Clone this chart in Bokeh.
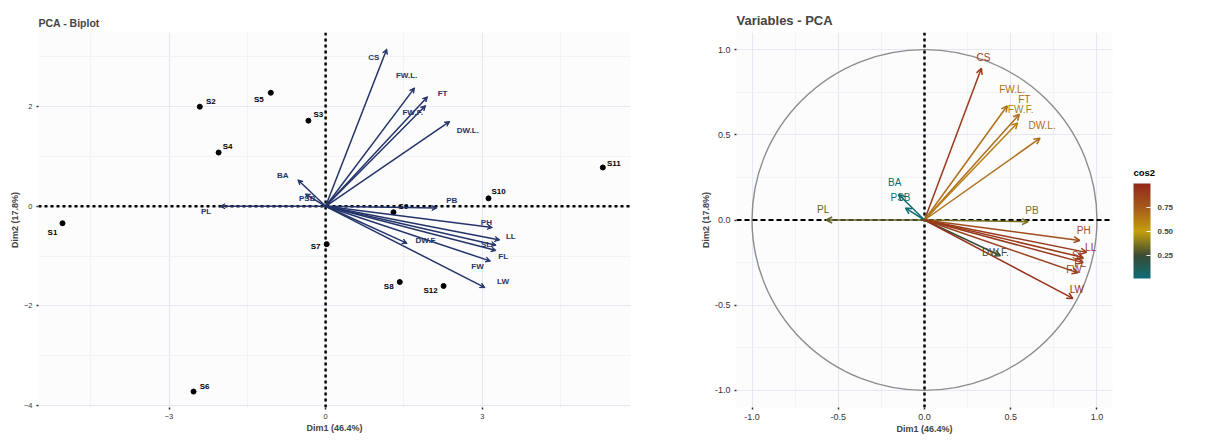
import numpy as np
from bokeh.plotting import figure
from bokeh.models import (ColumnDataSource, Span, Arrow, VeeHead, OpenHead, FixedTicker,
                          LinearColorMapper, ColorBar, PrintfTickFormatter, Range1d)
from bokeh.layouts import row
from bokeh.embed import file_html
from bokeh.resources import INLINE
from bokeh.core.properties import value

# ---------------- data ----------------
individuals = ["S1", "S2", "S3", "S4", "S5", "S6", "S7", "S8", "S9", "S10", "S11", "S12"]
ind_dim1 = [-5.04, -2.41, -0.33, -2.05, -1.05, -2.53, 0.02, 1.42, 1.30, 3.12, 5.31, 2.26]
ind_dim2 = [-0.34, 2.00, 1.72, 1.08, 2.28, -3.72, -0.76, -1.52, -0.12, 0.16, 0.78, -1.60]

variables = ["CS", "FW.L.", "FT", "FW.F.", "DW.L.", "PB", "BA", "PSB", "PL", "DW.F.",
             "PH", "LL", "SL", "FL", "FW", "LW"]
var_dim1 = [0.33, 0.48, 0.55, 0.54, 0.67, 0.60, -0.15, -0.11, -0.57, 0.44,
            0.90, 0.94, 0.92, 0.92, 0.89, 0.86]
var_dim2 = [0.89, 0.67, 0.62, 0.57, 0.48, -0.01, 0.15, 0.07, 0.00, -0.21,
            -0.12, -0.19, -0.22, -0.25, -0.31, -0.46]
biplot_scale = 3.55

dim1_label = "Dim1 (46.4%)"
dim2_label = "Dim2 (17.8%)"
cos2_title = "cos2"
cos2_ticks = [0.25, 0.50, 0.75]

# ---------------- styles (label placement in screen px) ----------------
ind_dx = [-10, 11, 10, 9, -12, 11, -11, -11, 10, 10, 11, -13]
ind_dy = [9, -5, -6, -6, 7, -5, 2, 4, -6, -7, -4, 5]
lv_dx = [-13, -8, 15, -13, 18, 15, -15, 2, -14, 19, -6, 11, -10, 7, -13, 18]
lv_dy = [9, -12, -3, 7, 9, -8, -4, 5, 5, -3, -5, -3, -1, 6, 5, -6]
rv_dx = [2, 5, 5, 3, 2, 4, -4, -5, -3, -5, 4, 4, -5, -3, -4, 4]
rv_dy = [-11, -16, -15, -13, -13, -11, -12, -11, -11, -3, -10, -5, -2, 1, -3, -9]

FONT = "Liberation Sans"
NAVY = "#24346A"
GRID = "#E2E9F0"
MINOR = "#EDF1F5"

stops = [(0.0, "#0A6F78"), (0.25, "#3A4A34"), (0.5, "#C4A00C"), (0.75, "#A65A1C"), (1.0, "#92281A")]


def hex2rgb(h):
    return np.array([int(h[i:i + 2], 16) for i in (1, 3, 5)], dtype=float)


def grad(t):
    t = min(max(t, 0.0), 1.0)
    for (a, ca), (b, cb) in zip(stops[:-1], stops[1:]):
        if t <= b:
            f = (t - a) / (b - a)
            c = hex2rgb(ca) * (1 - f) + hex2rgb(cb) * f
            return "#%02x%02x%02x" % tuple(int(round(v)) for v in c)
    return stops[-1][1]


cos2 = [x * x + y * y for x, y in zip(var_dim1, var_dim2)]
var_colors = [grad(c) for c in cos2]
c_low, c_high = 0.01, 1.0
palette = [grad(c_low + (c_high - c_low) * i / 255) for i in range(256)]


def style(p, title, tsize, tstandoff, tick_font):
    p.title.text = title
    p.title.text_font = FONT
    p.title.text_font_size = tsize
    p.title.text_font_style = "bold"
    p.title.standoff = tstandoff
    p.outline_line_color = None
    p.background_fill_color = "#FCFCFC"
    p.border_fill_color = "white"
    p.axis.axis_line_color = None
    p.axis.major_tick_line_color = "#333333"
    p.axis.major_tick_line_width = 1.5
    p.axis.major_tick_out = 2
    p.axis.major_tick_in = 0
    p.axis.minor_tick_line_color = None
    p.axis.major_label_text_font = FONT
    p.axis.major_label_text_font_size = tick_font
    p.axis.major_label_text_color = "#333333"
    p.axis.major_label_standoff = 2
    p.axis.axis_label_text_font = FONT
    p.axis.axis_label_text_font_style = "bold"
    p.axis.axis_label_text_font_size = "9px"
    p.axis.axis_label_standoff = 1
    p.xaxis.axis_label = dim1_label
    p.yaxis.axis_label = dim2_label
    p.grid.grid_line_color = GRID
    p.grid.grid_line_width = 1.1
    p.grid.minor_grid_line_color = MINOR
    p.grid.minor_grid_line_width = 0.9


# ---------------- left: biplot ----------------
left = figure(x_range=(-5.5, 5.84), y_range=(-4.04, 3.49), frame_width=592, frame_height=375,
              min_border_left=38, min_border_right=18, min_border_top=32, min_border_bottom=26,
              output_backend="svg", toolbar_location=None)
style(left, "PCA - Biplot", "10.5px", 8, "7.5px")
left.xaxis.ticker = FixedTicker(ticks=[-3, 0, 3], minor_ticks=[-4.5, -1.5, 1.5, 4.5])
left.yaxis.ticker = FixedTicker(ticks=[-4, -2, 0, 2], minor_ticks=[-3, -1, 1, 3])

left.add_layout(Span(location=0, dimension="width", line_color="black", line_width=2.5, line_dash="3 3"))
left.add_layout(Span(location=0, dimension="height", line_color="black", line_width=2.5, line_dash="3 3"))

lx = [v * biplot_scale for v in var_dim1]
ly = [v * biplot_scale for v in var_dim2]
lsrc = ColumnDataSource(dict(x0=[0.0] * len(variables), y0=[0.0] * len(variables), x1=lx, y1=ly))
left.add_layout(Arrow(x_start="x0", y_start="y0", x_end="x1", y_end="y1", source=lsrc,
                      line_color=NAVY, line_width=1.5,
                      end=VeeHead(size=5, fill_color=NAVY, line_color=NAVY, line_width=1)))

isrc = ColumnDataSource(dict(x=ind_dim1, y=ind_dim2, label=individuals, dx=ind_dx, dy=ind_dy))
left.scatter("x", "y", source=isrc, size=5, color="black")
left.text("x", "y", text="label", source=isrc, x_offset="dx", y_offset="dy",
          text_align="center", text_baseline="middle", text_font=value(FONT),
          text_font_size="8px", text_font_style="bold", text_color="black")
for i, name in enumerate(variables):
    left.text(x=[lx[i]], y=[ly[i]], text=[name], x_offset=lv_dx[i], y_offset=lv_dy[i],
              text_align="center", text_baseline="middle", text_font=value(FONT),
              text_font_size="8px", text_font_style="bold", text_color=NAVY)

# ---------------- right: variables ----------------
right = figure(x_range=(-1.09, 1.09), y_range=(-1.1, 1.1), frame_width=376, frame_height=375,
               min_border_left=88, min_border_right=5, min_border_top=32, min_border_bottom=26,
               output_backend="svg", toolbar_location=None)
style(right, "Variables - PCA", "13px", 9, "9px")
right.xaxis.ticker = FixedTicker(ticks=[-1, -0.5, 0, 0.5, 1], minor_ticks=[-0.75, -0.25, 0.25, 0.75])
right.yaxis.ticker = FixedTicker(ticks=[-1, -0.5, 0, 0.5, 1], minor_ticks=[-0.75, -0.25, 0.25, 0.75])
right.xaxis.formatter = PrintfTickFormatter(format="%.1f")
right.yaxis.formatter = PrintfTickFormatter(format="%.1f")

right.ellipse(x=[0], y=[0], width=[2], height=[2], fill_color=None, line_color="#8C8C8C", line_width=1.4)
right.add_layout(Span(location=0, dimension="width", line_color="black", line_width=2, line_dash="5 3"))
right.add_layout(Span(location=0, dimension="height", line_color="black", line_width=2.5, line_dash="3 3"))

for i, name in enumerate(variables):
    s = ColumnDataSource(dict(x0=[0.0], y0=[0.0], x1=[var_dim1[i]], y1=[var_dim2[i]]))
    c = var_colors[i]
    right.add_layout(Arrow(x_start="x0", y_start="y0", x_end="x1", y_end="y1", source=s,
                           line_color=c, line_width=1.5,
                           end=OpenHead(size=6, line_color=c, line_width=1.5)))

rsrc = ColumnDataSource(dict(x=var_dim1, y=var_dim2, label=variables, dx=rv_dx, dy=rv_dy, color=var_colors))
right.text("x", "y", text="label", source=rsrc, x_offset="dx", y_offset="dy",
           text_align="center", text_baseline="middle", text_font=value(FONT),
           text_font_size="10px", text_color="color")

# ---------------- legend strip (colour bar) ----------------
leg = figure(x_range=Range1d(0, 80), y_range=Range1d(420, 0), frame_width=80, frame_height=420,
             min_border=0, title=None, output_backend="svg", toolbar_location=None)
leg.axis.visible = False
leg.grid.visible = False
leg.outline_line_color = None
leg.background_fill_color = "white"
leg.border_fill_color = "white"
leg.text(x=[16], y=[140], text=[cos2_title], text_align="left", text_baseline="middle",
         text_font=value(FONT), text_font_size="9.5px", text_font_style="bold", text_color="black")

mapper = LinearColorMapper(palette=palette, low=c_low, high=c_high)
cb = ColorBar(color_mapper=mapper, ticker=FixedTicker(ticks=cos2_ticks),
              formatter=PrintfTickFormatter(format="%.2f"),
              width=17, height=95,
              major_label_text_font=FONT, major_label_text_font_size="8px",
              major_label_text_font_style="bold", label_standoff=7,
              major_tick_line_color="white", major_tick_in=4, major_tick_out=0,
              bar_line_color=None, padding=10, location=(6, 164),
              background_fill_color=None, border_line_color=None)
leg.add_layout(cb, "center")

layout = row(left, right, leg)
open("out.html", "w").write(file_html(layout, INLINE))
